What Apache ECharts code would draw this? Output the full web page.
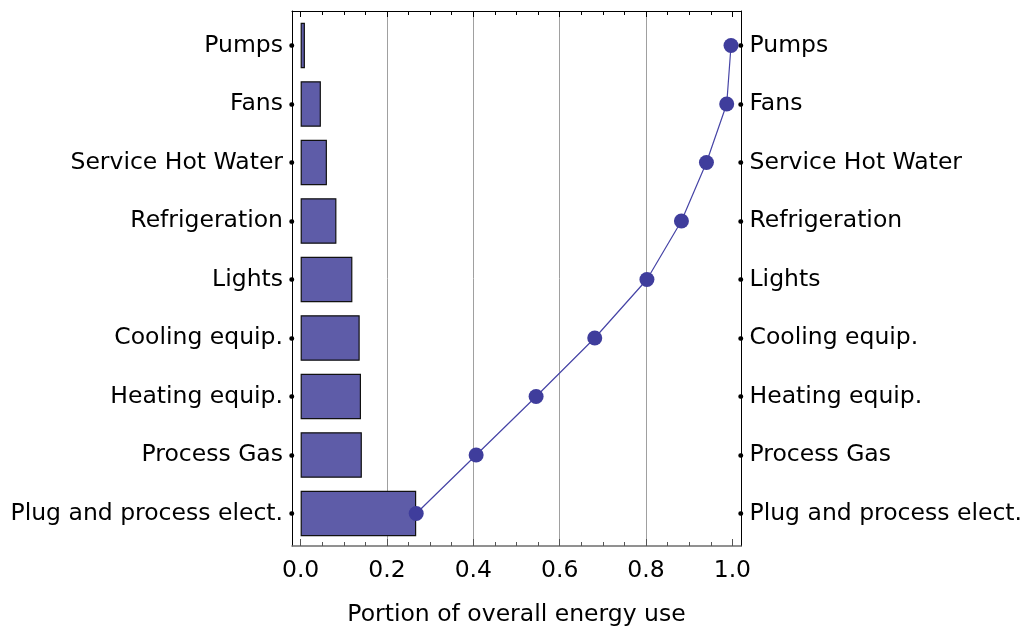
<!DOCTYPE html>
<html>
<head>
<meta charset="utf-8">
<script src="https://cdn.jsdelivr.net/npm/echarts@6/dist/echarts.min.js"></script>
<style>html,body{margin:0;padding:0;background:#fff;}#c{width:1025px;height:632px;}</style>
</head>
<body>
<div id="c"></div>
<script>
const categories = ['Pumps','Fans','Service Hot Water','Refrigeration','Lights','Cooling equip.','Heating equip.','Process Gas','Plug and process elect.'];
const shareValues = [0.010, 0.047, 0.061, 0.083, 0.120, 0.137, 0.140, 0.142, 0.268];
const cumulativeValues = [0.998, 0.988, 0.941, 0.883, 0.803, 0.682, 0.546, 0.407, 0.268];
const majorTicks = [0, 0.2, 0.4, 0.6, 0.8, 1.0];
const minorTicks = [0.05, 0.1, 0.15, 0.25, 0.3, 0.35, 0.45, 0.5, 0.55, 0.65, 0.7, 0.75, 0.85, 0.9, 0.95];
const gridTicks = [0.2, 0.4, 0.6, 0.8];
const axisTitle = 'Portion of overall energy use';

const FONT = 'DejaVu Sans';
const FS = 23.5;
const XMIN = -0.02, XMAX = 1.02;
const chart = echarts.init(document.getElementById('c'), null, {renderer: 'canvas'});

function frameX(opts) {
  return Object.assign({
    type: 'value', gridIndex: 1, min: XMIN, max: XMAX,
    axisLine: {show: false}, axisTick: {show: false}, axisLabel: {show: false}, splitLine: {show: false}
  }, opts);
}

const option = {
  animation: false,
  backgroundColor: '#fff',
  grid: [
    {left: 292, right: 284, top: 16.25, bottom: 89.25, containLabel: false},
    {left: 292, right: 284, top: 11, bottom: 84, containLabel: false}
  ],
  xAxis: [
    {type: 'value', gridIndex: 0, min: XMIN, max: XMAX, show: false},
    frameX({splitLine: {show: true, lineStyle: {color: '#a0a0a0', width: 1}}, axisTick: {show: false, customValues: gridTicks}}),
    frameX({position: 'bottom',
      axisLine: {show: true, onZero: false, lineStyle: {color: '#6e6e6e', width: 1.5}},
      axisTick: {show: true, inside: true, length: 7, customValues: majorTicks, lineStyle: {color: '#555', width: 1}},
      axisLabel: {show: true, customValues: majorTicks, margin: 13, fontFamily: FONT, fontSize: FS, color: '#000',
        formatter: v => Number(v).toFixed(1)},
      name: axisTitle, nameLocation: 'middle', nameGap: 57,
      nameTextStyle: {fontFamily: FONT, fontSize: FS, color: '#000'}
    }),
    frameX({position: 'bottom',
      axisTick: {show: true, inside: true, length: 4, customValues: minorTicks, lineStyle: {color: '#555', width: 1}}}),
    frameX({position: 'top',
      axisLine: {show: true, onZero: false, lineStyle: {color: '#000', width: 1}},
      axisTick: {show: true, inside: true, length: 6, customValues: majorTicks, lineStyle: {color: '#000', width: 1}}}),
    frameX({position: 'top',
      axisTick: {show: true, inside: true, length: 4, customValues: minorTicks, lineStyle: {color: '#000', width: 1}}})
  ],
  yAxis: [
    {type: 'category', gridIndex: 0, data: categories, inverse: true, position: 'left',
      axisLine: {show: false, onZero: false},
      axisTick: {show: true, alignWithLabel: true, length: 0.5, lineStyle: {color: '#000', width: 4.5, cap: 'round'}},
      axisLabel: {margin: 9, fontFamily: FONT, fontSize: FS, color: '#000'},
      splitLine: {show: false}},
    {type: 'category', gridIndex: 0, data: categories, inverse: true, position: 'right',
      axisLine: {show: false, onZero: false},
      axisTick: {show: true, alignWithLabel: true, length: 0.5, lineStyle: {color: '#000', width: 4.5, cap: 'round'}},
      axisLabel: {margin: 9, fontFamily: FONT, fontSize: FS, color: '#000'},
      splitLine: {show: false}},
    {type: 'value', gridIndex: 1, min: 0, max: 1, position: 'left',
      axisLine: {show: true, onZero: false, lineStyle: {color: '#000', width: 1}},
      axisTick: {show: false}, axisLabel: {show: false}, splitLine: {show: false}},
    {type: 'value', gridIndex: 1, min: 0, max: 1, position: 'right',
      axisLine: {show: true, onZero: false, lineStyle: {color: '#000', width: 1}},
      axisTick: {show: false}, axisLabel: {show: false}, splitLine: {show: false}}
  ],
  series: [
    {type: 'bar', xAxisIndex: 0, yAxisIndex: 0, data: shareValues, barCategoryGap: '22%',
      itemStyle: {color: '#5e5ca8', borderColor: '#111', borderWidth: 1.2}, z: 2},
    {type: 'line', xAxisIndex: 0, yAxisIndex: 0, data: cumulativeValues, symbol: 'circle', symbolSize: 15,
      lineStyle: {color: '#4644a6', width: 1.2}, itemStyle: {color: '#3f3d9c'}, z: 4}
  ]
};
chart.setOption(option);
</script>
</body>
</html>
